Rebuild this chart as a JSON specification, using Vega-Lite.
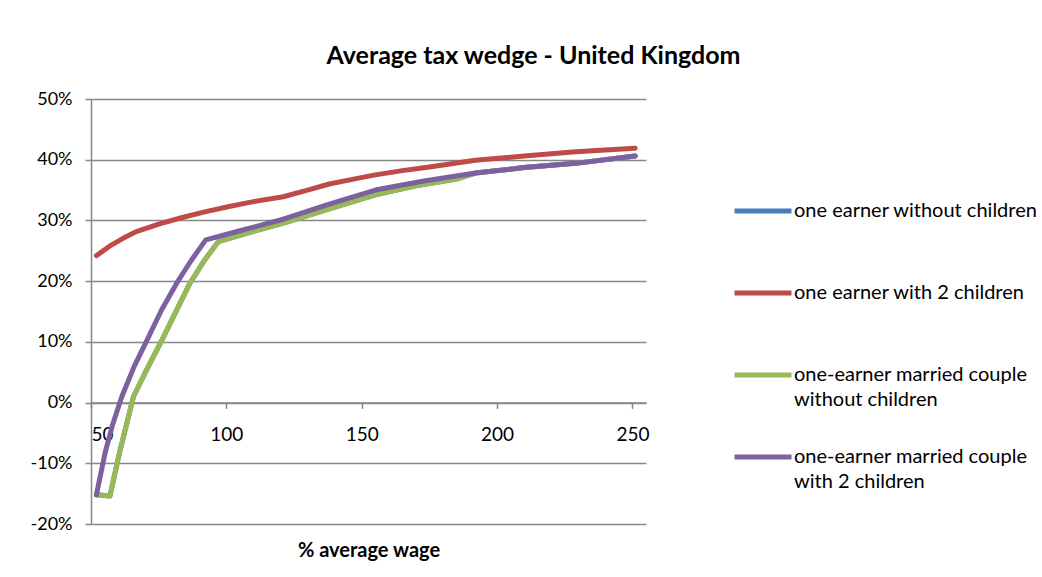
{
  "$schema": "https://vega.github.io/schema/vega-lite/v6.json",
  "width": 555,
  "height": 425,
  "autosize": {"type": "none"},
  "padding": {"left": 91, "top": 99, "right": 396, "bottom": 53},
  "background": "white",
  "config": {
    "view": {"stroke": null},
    "font": "Lato",
    "style": {"guide-label": {"lineHeight": 25}}
  },
  "title": {
    "text": "Average tax wedge - United Kingdom",
    "font": "Lato",
    "fontSize": 25,
    "fontWeight": "bold",
    "color": "#000000",
    "anchor": "middle",
    "dx": 165,
    "offset": 21
  },
  "data": {
    "values": [
      {"wage": 52, "series": "one earner without children", "wedge": -0.152},
      {"wage": 57, "series": "one earner without children", "wedge": -0.154},
      {"wage": 60.5, "series": "one earner without children", "wedge": -0.083},
      {"wage": 65.7, "series": "one earner without children", "wedge": 0.010},
      {"wage": 71, "series": "one earner without children", "wedge": 0.058},
      {"wage": 76.2, "series": "one earner without children", "wedge": 0.103},
      {"wage": 81.5, "series": "one earner without children", "wedge": 0.151},
      {"wage": 86.6, "series": "one earner without children", "wedge": 0.197},
      {"wage": 92, "series": "one earner without children", "wedge": 0.235},
      {"wage": 97, "series": "one earner without children", "wedge": 0.265},
      {"wage": 110, "series": "one earner without children", "wedge": 0.282},
      {"wage": 122, "series": "one earner without children", "wedge": 0.297},
      {"wage": 138, "series": "one earner without children", "wedge": 0.319},
      {"wage": 155, "series": "one earner without children", "wedge": 0.342},
      {"wage": 170, "series": "one earner without children", "wedge": 0.357},
      {"wage": 185, "series": "one earner without children", "wedge": 0.368},
      {"wage": 192, "series": "one earner without children", "wedge": 0.378},
      {"wage": 210, "series": "one earner without children", "wedge": 0.387},
      {"wage": 229, "series": "one earner without children", "wedge": 0.394},
      {"wage": 251, "series": "one earner without children", "wedge": 0.406},

      {"wage": 52, "series": "one earner with 2 children", "wedge": 0.242},
      {"wage": 57, "series": "one earner with 2 children", "wedge": 0.258},
      {"wage": 62, "series": "one earner with 2 children", "wedge": 0.271},
      {"wage": 67, "series": "one earner with 2 children", "wedge": 0.282},
      {"wage": 75, "series": "one earner with 2 children", "wedge": 0.294},
      {"wage": 83, "series": "one earner with 2 children", "wedge": 0.304},
      {"wage": 92, "series": "one earner with 2 children", "wedge": 0.314},
      {"wage": 101, "series": "one earner with 2 children", "wedge": 0.323},
      {"wage": 110, "series": "one earner with 2 children", "wedge": 0.331},
      {"wage": 121, "series": "one earner with 2 children", "wedge": 0.339},
      {"wage": 130, "series": "one earner with 2 children", "wedge": 0.350},
      {"wage": 138, "series": "one earner with 2 children", "wedge": 0.360},
      {"wage": 147, "series": "one earner with 2 children", "wedge": 0.368},
      {"wage": 155, "series": "one earner with 2 children", "wedge": 0.375},
      {"wage": 165, "series": "one earner with 2 children", "wedge": 0.382},
      {"wage": 175, "series": "one earner with 2 children", "wedge": 0.388},
      {"wage": 192, "series": "one earner with 2 children", "wedge": 0.399},
      {"wage": 210, "series": "one earner with 2 children", "wedge": 0.406},
      {"wage": 229, "series": "one earner with 2 children", "wedge": 0.413},
      {"wage": 251, "series": "one earner with 2 children", "wedge": 0.419},

      {"wage": 52, "series": "one-earner married couple without children", "wedge": -0.152},
      {"wage": 57, "series": "one-earner married couple without children", "wedge": -0.154},
      {"wage": 60.5, "series": "one-earner married couple without children", "wedge": -0.083},
      {"wage": 65.7, "series": "one-earner married couple without children", "wedge": 0.010},
      {"wage": 71, "series": "one-earner married couple without children", "wedge": 0.058},
      {"wage": 76.2, "series": "one-earner married couple without children", "wedge": 0.103},
      {"wage": 81.5, "series": "one-earner married couple without children", "wedge": 0.151},
      {"wage": 86.6, "series": "one-earner married couple without children", "wedge": 0.197},
      {"wage": 92, "series": "one-earner married couple without children", "wedge": 0.235},
      {"wage": 97, "series": "one-earner married couple without children", "wedge": 0.265},
      {"wage": 110, "series": "one-earner married couple without children", "wedge": 0.282},
      {"wage": 122, "series": "one-earner married couple without children", "wedge": 0.297},
      {"wage": 138, "series": "one-earner married couple without children", "wedge": 0.319},
      {"wage": 155, "series": "one-earner married couple without children", "wedge": 0.342},
      {"wage": 170, "series": "one-earner married couple without children", "wedge": 0.357},
      {"wage": 185, "series": "one-earner married couple without children", "wedge": 0.368},
      {"wage": 192, "series": "one-earner married couple without children", "wedge": 0.378},
      {"wage": 210, "series": "one-earner married couple without children", "wedge": 0.387},
      {"wage": 229, "series": "one-earner married couple without children", "wedge": 0.394},
      {"wage": 251, "series": "one-earner married couple without children", "wedge": 0.406},

      {"wage": 52, "series": "one-earner married couple with 2 children", "wedge": -0.152},
      {"wage": 55.2, "series": "one-earner married couple with 2 children", "wedge": -0.083},
      {"wage": 58, "series": "one-earner married couple with 2 children", "wedge": -0.036},
      {"wage": 61.4, "series": "one-earner married couple with 2 children", "wedge": 0.010},
      {"wage": 66, "series": "one-earner married couple with 2 children", "wedge": 0.060},
      {"wage": 70.7, "series": "one-earner married couple with 2 children", "wedge": 0.103},
      {"wage": 76, "series": "one-earner married couple with 2 children", "wedge": 0.152},
      {"wage": 81.7, "series": "one-earner married couple with 2 children", "wedge": 0.197},
      {"wage": 87, "series": "one-earner married couple with 2 children", "wedge": 0.234},
      {"wage": 92.4, "series": "one-earner married couple with 2 children", "wedge": 0.268},
      {"wage": 105, "series": "one-earner married couple with 2 children", "wedge": 0.283},
      {"wage": 121, "series": "one-earner married couple with 2 children", "wedge": 0.302},
      {"wage": 138, "series": "one-earner married couple with 2 children", "wedge": 0.327},
      {"wage": 155, "series": "one-earner married couple with 2 children", "wedge": 0.350},
      {"wage": 173, "series": "one-earner married couple with 2 children", "wedge": 0.365},
      {"wage": 192, "series": "one-earner married couple with 2 children", "wedge": 0.378},
      {"wage": 210, "series": "one-earner married couple with 2 children", "wedge": 0.387},
      {"wage": 229, "series": "one-earner married couple with 2 children", "wedge": 0.394},
      {"wage": 251, "series": "one-earner married couple with 2 children", "wedge": 0.406}
    ]
  },
  "mark": {"type": "line", "strokeWidth": 5, "strokeCap": "round", "strokeJoin": "round"},
  "encoding": {
    "x": {
      "field": "wage",
      "type": "quantitative",
      "scale": {"domain": [50, 255], "nice": false, "zero": false},
      "axis": {
        "values": [50, 100, 150, 200, 250],
        "title": "% average wage",
        "titleFont": "Lato",
        "titleFontSize": 20,
        "titleFontWeight": "bold",
        "titleColor": "#000000",
        "titlePadding": 96,
        "labelFont": "Lato",
        "labelFontSize": 19,
        "labelColor": "#000000",
        "labelPadding": 17,
        "labelFlush": true,
        "tickSize": 6,
        "tickColor": "#868686",
        "tickWidth": 1.5,
        "domainColor": "#868686",
        "domainWidth": 1.5,
        "grid": false,
        "offset": -121.6
      }
    },
    "y": {
      "field": "wedge",
      "type": "quantitative",
      "scale": {"domain": [-0.2, 0.5], "nice": false, "zero": false},
      "axis": {
        "values": [-0.2, -0.1, 0, 0.1, 0.2, 0.3, 0.4, 0.5],
        "labelExpr": "round(datum.value*100) + '%'",
        "title": null,
        "labelFont": "Lato",
        "labelFontSize": 18,
        "labelColor": "#000000",
        "labelPadding": 13,
        "tickSize": 6,
        "tickColor": "#868686",
        "tickWidth": 1.5,
        "domainColor": "#868686",
        "domainWidth": 1.5,
        "grid": true,
        "gridColor": "#868686",
        "gridWidth": 1.5
      }
    },
    "color": {
      "field": "series",
      "type": "nominal",
      "scale": {
        "domain": ["one earner without children", "one earner with 2 children", "one-earner married couple without children", "one-earner married couple with 2 children"],
        "range": ["#4A7EBB", "#BE4B48", "#98B954", "#7D60A0"]
      },
      "legend": {
        "title": null,
        "orient": "none",
        "legendX": 641,
        "legendY": 81,
        "padding": 0,
        "symbolType": "stroke",
        "symbolSize": 3249,
        "symbolStrokeWidth": 5,
        "labelFont": "Lato",
        "labelFontSize": 20,
        "labelColor": "#000000",
        "labelOffset": 0,
        "labelLimit": 400,
        "rowPadding": 16,
        "labelExpr": "datum.label == 'one-earner married couple without children' ? ['one-earner married couple', 'without children'] : datum.label == 'one-earner married couple with 2 children' ? ['one-earner married couple', 'with 2 children'] : [datum.label, ' ']"
      }
    }
  }
}
